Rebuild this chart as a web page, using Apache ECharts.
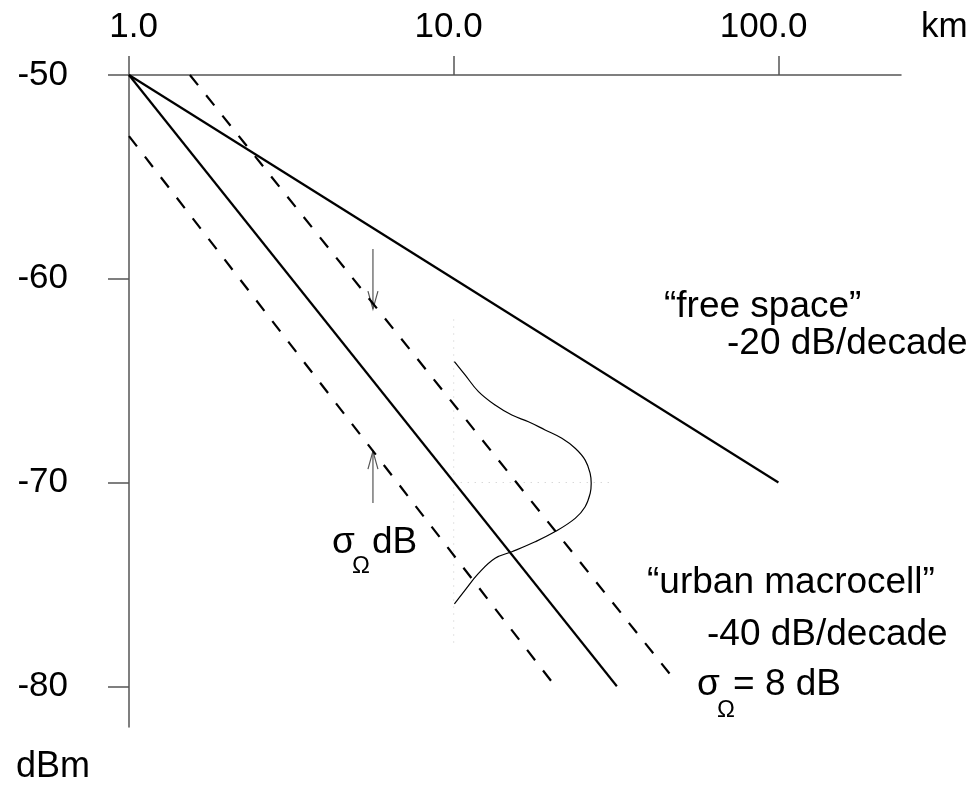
<!DOCTYPE html>
<html>
<head>
<meta charset="utf-8">
<script src="https://cdn.jsdelivr.net/npm/echarts@6/dist/echarts.min.js"></script>
<style>
  html, body { margin: 0; padding: 0; background: #fff; }
  #chart { width: 980px; height: 785px; }
</style>
</head>
<body>
<div id="chart"></div>
<script>
// axis ticks
const distTicks = [1, 10, 100];
const levelTicks = [-80, -70, -60, -50];

// "free space" -20 dB/decade
const freeX = [1, 100];
const freeY = [-50, -70];
// "urban macrocell" -40 dB/decade
const urbanX = [1, 31.8];
const urbanY = [-50, -80];
// sigma spread (dashed)
const upperX = [1.54, 47.4];
const upperY = [-50, -79.6];
const lowerX = [1, 20.2];
const lowerY = [-53, -79.85];

// lognormal bump drawn on the 10 km line
const bumpX = [10.05, 10.84, 11.92, 13.41, 15.1, 16.99, 19.12, 21.53, 23.66, 25.4, 26.32, 26.51,
  26.32, 25.4, 23.66, 20.53, 17.82, 15.1, 13.41, 11.92, 10.84, 10.05];
const bumpY = [-64.07, -64.72, -65.54, -66.2, -66.69, -67.02, -67.42, -67.83, -68.32, -68.9, -69.56, -70.04,
  -70.53, -71.19, -71.76, -72.41, -72.91, -73.4, -73.72, -74.46, -75.28, -75.96];

// dotted guides
const guideVX = [10, 10];
const guideVY = [-62, -78];
const guideHX = [10, 30.9];
const guideHY = [-70, -70];

// sigma arrows
const arrowX = [5.64, 5.64];
const arrowFrom = [-58.54, -71.01];
const arrowTo = [-61.49, -68.46];

const FONT = 'Liberation Sans, Arial, sans-serif';
const zip = (xs, ys) => xs.map((x, i) => [x, ys[i]]);

const solid = (name, xs, ys) => ({
  name, type: 'line', data: zip(xs, ys), symbol: 'none', silent: true,
  lineStyle: { color: '#000', width: 2.2 }
});
const dashed = (name, xs, ys) => ({
  name, type: 'line', data: zip(xs, ys), symbol: 'none', silent: true,
  lineStyle: { color: '#000', width: 2.2, type: [13, 13] }
});
const dotted = (name, xs, ys) => ({
  name, type: 'line', data: zip(xs, ys), symbol: 'none', silent: true,
  lineStyle: { color: '#c8c8c8', width: 1, type: [1, 6] }
});

const txt = (text, x, y, size) => ({
  type: 'text', x, y, silent: true,
  style: { text, fontSize: size || 37, fontFamily: FONT, fill: '#000', align: 'left', verticalAlign: 'middle' }
});

const chart = echarts.init(document.getElementById('chart'));
chart.setOption({
  animation: false,
  backgroundColor: '#fff',
  grid: { left: 129, right: 79, top: 75, bottom: 58, outerBoundsMode: 'none' },
  xAxis: {
    type: 'log', logBase: 10, position: 'top', min: 1, max: 238.5,
    axisLine: { lineStyle: { color: '#555', width: 1.5 } },
    axisTick: { length: 19, customValues: distTicks, lineStyle: { color: '#555', width: 1.5 } },
    axisLabel: {
      customValues: distTicks, margin: 48, verticalAlign: 'middle',
      formatter: v => '{t|' + Number(v).toFixed(1) + '}',
      rich: { t: { width: 58, align: 'right', fontSize: 35, fontFamily: FONT, color: '#000' } }
    },
    splitLine: { show: false }
  },
  yAxis: {
    type: 'value', min: -82, max: -50,
    axisLine: { lineStyle: { color: '#555', width: 1.5 } },
    axisTick: { length: 21, customValues: levelTicks, lineStyle: { color: '#555', width: 1.5 } },
    axisLabel: { customValues: levelTicks, margin: 61, fontSize: 35, fontFamily: FONT, color: '#000' },
    splitLine: { show: false }
  },
  series: [
    dotted('guideV', guideVX, guideVY),
    dotted('guideH', guideHX, guideHY),
    solid('free space', freeX, freeY),
    solid('urban', urbanX, urbanY),
    dashed('upper', upperX, upperY),
    dashed('lower', lowerX, lowerY),
    {
      name: 'bump', type: 'line', data: zip(bumpX, bumpY), symbol: 'none', smooth: 0.4, silent: true,
      lineStyle: { color: '#000', width: 1.2 }
    },
    {
      name: 'arrows', type: 'custom', silent: true,
      data: arrowX.map((x, i) => [x, arrowFrom[i], arrowTo[i]]),
      encode: { x: 0, y: [1, 2] },
      renderItem: (params, api) => {
        const a = api.coord([api.value(0), api.value(1)]);
        const b = api.coord([api.value(0), api.value(2)]);
        const d = b[1] > a[1] ? 1 : -1;
        const st = { stroke: '#555', lineWidth: 1.2, fill: null };
        return {
          type: 'group',
          children: [
            { type: 'line', shape: { x1: a[0], y1: a[1], x2: b[0], y2: b[1] }, style: st },
            { type: 'polyline', shape: { points: [[b[0] - 5, b[1] - d * 18], [b[0], b[1]], [b[0] + 5, b[1] - d * 18]] }, style: st }
          ]
        };
      }
    }
  ],
  graphic: [
    txt('km', 921, 27, 35),
    txt('dBm', 16, 767, 36),
    txt('\u201Cfree space\u201D', 664, 307),
    txt('-20 dB/decade', 727, 344),
    txt('\u201Curban macrocell\u201D', 647, 583),
    txt('-40 dB/decade', 707, 635),
    txt('\u03C3', 697, 685),
    txt('\u03A9', 717, 710, 24),
    txt('= 8 dB', 733, 685),
    txt('\u03C3', 332, 543),
    txt('\u03A9', 352, 566, 24),
    txt('dB', 372, 543)
  ]
});
</script>
</body>
</html>
